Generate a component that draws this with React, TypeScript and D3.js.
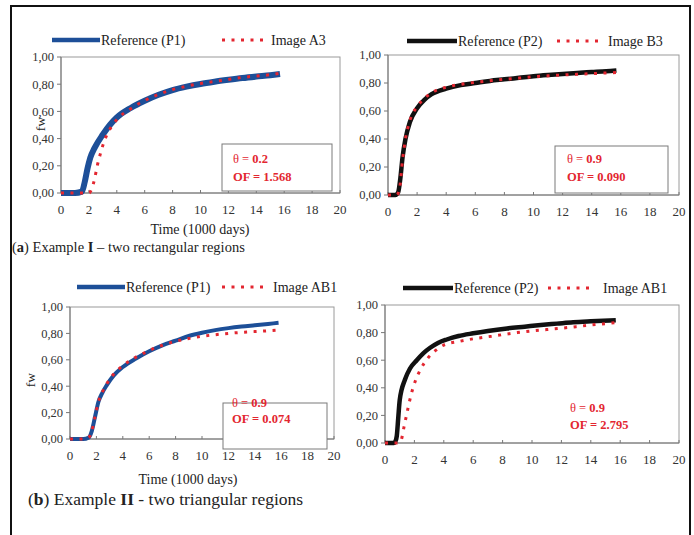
import React from "react";
import * as d3 from "d3";

// ---------- DATA ----------
const xTicks = [0, 2, 4, 6, 8, 10, 12, 14, 16, 18, 20];
const yTicks = [0, 0.2, 0.4, 0.6, 0.8, 1.0];

// (a) Example I – left: Reference (P1) vs Image A3
const refP1a: [number, number][] = [
  [0, 0], [1.0, 0], [1.5, 0.01], [1.7, 0.08], [1.9, 0.18], [2.1, 0.26], [2.4, 0.33],
  [3, 0.43], [3.5, 0.5], [4, 0.555], [5, 0.625], [6, 0.678], [7, 0.722], [8, 0.757],
  [9, 0.782], [10, 0.802], [11, 0.818], [12, 0.832], [13, 0.845], [14, 0.856],
  [15, 0.866], [15.7, 0.875],
];
const imageA3: [number, number][] = [
  [0, 0], [2.0, 0], [2.2, 0.03], [2.4, 0.1], [2.6, 0.2], [2.8, 0.28], [3.0, 0.35],
  [3.3, 0.43], [3.7, 0.5], [4.2, 0.56], [5, 0.62], [6, 0.68], [7, 0.725], [8, 0.76],
  [9, 0.785], [10, 0.805], [11, 0.82], [12, 0.835], [13, 0.85], [14, 0.86],
  [15, 0.87], [15.7, 0.88],
];
// (a) Example I – right: Reference (P2) vs Image B3
const refP2a: [number, number][] = [
  [0, 0], [0.5, 0], [0.7, 0.02], [0.85, 0.12], [1.0, 0.27], [1.2, 0.4], [1.5, 0.52],
  [2, 0.62], [2.5, 0.68], [3, 0.72], [4, 0.76], [5, 0.785], [6, 0.8], [7, 0.815],
  [8, 0.826], [9, 0.837], [10, 0.848], [11, 0.857], [12, 0.865], [13, 0.872],
  [14, 0.878], [15, 0.884], [15.7, 0.89],
];
const imageB3: [number, number][] = [
  [0, 0], [0.6, 0], [0.8, 0.05], [1.0, 0.25], [1.2, 0.4], [1.5, 0.53], [2, 0.63],
  [2.5, 0.69], [3, 0.73], [4, 0.77], [5, 0.79], [6, 0.805], [7, 0.816], [8, 0.826],
  [9, 0.835], [10, 0.844], [11, 0.851], [12, 0.857], [13, 0.862], [14, 0.867],
  [15, 0.872], [15.7, 0.875],
];
// (b) Example II – left: Reference (P1) vs Image AB1
const refP1b: [number, number][] = [
  [0, 0], [1.0, 0], [1.4, 0.01], [1.65, 0.06], [1.9, 0.17], [2.15, 0.28], [2.45, 0.35],
  [2.8, 0.41], [3.3, 0.48], [4, 0.545], [5, 0.61], [6, 0.665], [7, 0.71], [8, 0.745],
  [9, 0.78], [10, 0.805], [11, 0.825], [12, 0.84], [13, 0.852], [14, 0.862],
  [15, 0.872], [15.8, 0.88],
];
const imageAB1a: [number, number][] = [
  [0, 0], [1.0, 0], [1.4, 0.01], [1.65, 0.06], [1.9, 0.17], [2.15, 0.28], [2.45, 0.355],
  [2.8, 0.42], [3.3, 0.49], [4, 0.555], [5, 0.62], [6, 0.67], [7, 0.71], [8, 0.74],
  [9, 0.762], [10, 0.778], [11, 0.79], [12, 0.8], [13, 0.808], [14, 0.814],
  [15, 0.82], [15.8, 0.825],
];
// (b) Example II – right: Reference (P2) vs Image AB1
const refP2b: [number, number][] = [
  [0, 0], [0.6, 0], [0.7, 0.01], [0.8, 0.05], [0.9, 0.18], [1.0, 0.31], [1.36, 0.46],
  [1.7, 0.54], [2.16, 0.6], [2.6, 0.65], [3.07, 0.69], [3.6, 0.725], [4.2, 0.75],
  [5, 0.775], [6, 0.795], [7, 0.812], [8.3, 0.83], [9.5, 0.843], [10.6, 0.855],
  [11.7, 0.865], [12.8, 0.875], [14, 0.882], [15.7, 0.89],
];
const imageAB1b: [number, number][] = [
  [0, 0], [0.8, 0], [1.0, 0.005], [1.1, 0.02], [1.3, 0.12], [1.5, 0.22], [1.8, 0.36],
  [2.1, 0.46], [2.4, 0.53], [2.95, 0.62], [3.5, 0.675], [4, 0.71], [5, 0.735],
  [6, 0.755], [7, 0.77], [8, 0.785], [9, 0.8], [10, 0.812], [11, 0.822], [12, 0.832],
  [13, 0.843], [14, 0.855], [15, 0.865], [15.7, 0.872],
];

const fmtY = (v: number) => v.toFixed(2).replace(".", ",");

// ---------- STYLE ----------
const BLUE = "#1d4f98";
const BLACK = "#111111";
const RED = "#e32630";
const SERIF = "Liberation Serif, Times New Roman, serif";
const DASH = "3 6.5";

type PanelProps = {
  left: number; right: number; top: number; bottom: number;
  refData: [number, number][]; imgData: [number, number][];
  refColor: string; refWidth: number;
  refLabel: string; imgLabel: string;
  legendY: number; legLine: [number, number]; legText: number;
  legDots: [number, number]; legText2: number;
  theta: string; of: string;
  box: [number, number, number, number] | null;
  textX: number; thetaY: number; ofY: number;
  showTitles: boolean; xTitle?: [number, number]; yTitle?: [number, number];
};

function Panel(p: PanelProps) {
  const x = d3.scaleLinear().domain([0, 20]).range([p.left, p.right]);
  const y = d3.scaleLinear().domain([0, 1]).range([p.bottom, p.top]);
  const line = d3.line<[number, number]>().x(d => x(d[0])).y(d => y(d[1])).curve(d3.curveMonotoneX);
  const tickFont = 12.5;
  return (
    <g fontFamily={SERIF}>
      <rect x={p.left} y={p.top} width={p.right - p.left} height={p.bottom - p.top}
        fill="none" stroke="#9a9a9a" strokeWidth={1} />
      {yTicks.map(t => (
        <g key={"y" + t}>
          <line x1={p.left - 4} x2={p.left} y1={y(t)} y2={y(t)} stroke="#777" />
          <text x={p.left - 7} y={y(t)} dy="0.35em" textAnchor="end" fontSize={tickFont} fill="#333">{fmtY(t)}</text>
        </g>
      ))}
      {xTicks.map(t => (
        <g key={"x" + t}>
          <line x1={x(t)} x2={x(t)} y1={p.bottom} y2={p.bottom - 3} stroke="#777" />
          <text x={x(t)} y={p.bottom + 21} textAnchor="middle" fontSize={tickFont + 0.5} fill="#333">{t}</text>
        </g>
      ))}
      <line x1={p.left} x2={p.right} y1={p.bottom} y2={p.bottom} stroke="#777" />
      <line x1={p.left} x2={p.left} y1={p.top} y2={p.bottom} stroke="#777" />
      <path d={line(p.refData) || ""} fill="none" stroke={p.refColor} strokeWidth={p.refWidth}
        strokeLinejoin="round" strokeLinecap="butt" />
      <path d={line(p.imgData) || ""} fill="none" stroke={RED} strokeWidth={3}
        strokeDasharray={DASH} strokeLinecap="butt" />
      {p.box && (
        <rect x={p.box[0]} y={p.box[1]} width={p.box[2] - p.box[0]} height={p.box[3] - p.box[1]}
          fill="white" stroke="#7a7a7a" strokeWidth={1} />
      )}
      <text x={p.textX} y={p.thetaY} fontSize={12.5} fill={RED}>
        θ  = <tspan fontWeight="bold">{p.theta}</tspan>
      </text>
      <text x={p.textX} y={p.ofY} fontSize={12.5} fill={RED} fontWeight="bold">OF = {p.of}</text>
      <line x1={p.legLine[0]} x2={p.legLine[1]} y1={p.legendY} y2={p.legendY} stroke={p.refColor} strokeWidth={4.5} />
      <text x={p.legText} y={p.legendY} dy="0.35em" fontSize={14} fill="#222">{p.refLabel}</text>
      <line x1={p.legDots[0]} x2={p.legDots[1]} y1={p.legendY} y2={p.legendY} stroke={RED} strokeWidth={3}
        strokeDasharray={DASH} />
      <text x={p.legText2} y={p.legendY} dy="0.35em" fontSize={14} fill="#222">{p.imgLabel}</text>
      {p.showTitles && p.xTitle && (
        <text x={p.xTitle[0]} y={p.xTitle[1]} textAnchor="middle" fontSize={14} fill="#222">Time (1000 days)</text>
      )}
      {p.showTitles && p.yTitle && (
        <text transform={`translate(${p.yTitle[0]},${p.yTitle[1]}) rotate(-90)`} textAnchor="middle"
          fontSize={13.5} fill="#222">fw</text>
      )}
    </g>
  );
}

export default function App() {
  return (
    <svg width={694} height={535} style={{ position: "absolute", left: 0, top: 0, background: "white" }}>
      <rect x={0} y={0} width={694} height={535} fill="white" />
      <rect x={11} y={6} width={679} height={540} fill="none" stroke="#111" strokeWidth={2} />

      <Panel left={61} right={340} top={57} bottom={193}
        refData={refP1a} imgData={imageA3} refColor={BLUE} refWidth={6}
        refLabel="Reference (P1)" imgLabel="Image A3"
        legendY={40} legLine={[52, 100]} legText={101} legDots={[222, 266]} legText2={271}
        theta="0.2" of="1.568" box={[222, 144, 332, 191]} textX={233} thetaY={163} ofY={181}
        showTitles xTitle={[200, 234]} yTitle={[45, 124]} />

      <Panel left={388} right={679} top={55} bottom={195}
        refData={refP2a} imgData={imageB3} refColor={BLACK} refWidth={4.5}
        refLabel="Reference (P2)" imgLabel="Image B3"
        legendY={41} legLine={[407, 457]} legText={458} legDots={[557, 602]} legText2={608}
        theta="0.9" of="0.090" box={[555, 146, 668, 193]} textX={567} thetaY={163} ofY={181}
        showTitles={false} />

      <Panel left={70} right={334} top={307} bottom={439}
        refData={refP1b} imgData={imageAB1a} refColor={BLUE} refWidth={4}
        refLabel="Reference (P1)" imgLabel="Image AB1"
        legendY={287} legLine={[77, 125]} legText={126} legDots={[222, 268]} legText2={273}
        theta="0.9" of="0.074" box={[223, 403, 327, 449]} textX={232} thetaY={407} ofY={423}
        showTitles xTitle={[188, 484]} yTitle={[35, 380]} />

      <Panel left={385} right={679} top={305} bottom={443}
        refData={refP2b} imgData={imageAB1b} refColor={BLACK} refWidth={4.5}
        refLabel="Reference (P2)" imgLabel="Image AB1"
        legendY={288} legLine={[403, 453]} legText={454} legDots={[548, 593]} legText2={603}
        theta="0.9" of="2.795" box={null} textX={570} thetaY={412} ofY={429}
        showTitles={false} />

      <text x={12} y={252} fontFamily={SERIF} fontSize={14.5} fill="#222">
        (<tspan fontWeight="bold">a</tspan>) Example <tspan fontWeight="bold">I</tspan> – two rectangular regions
      </text>
      <text x={28} y={505} fontFamily={SERIF} fontSize={17.5} fill="#222">
        (<tspan fontWeight="bold">b</tspan>) Example <tspan fontWeight="bold">II</tspan> - two triangular regions
      </text>
    </svg>
  );
}
